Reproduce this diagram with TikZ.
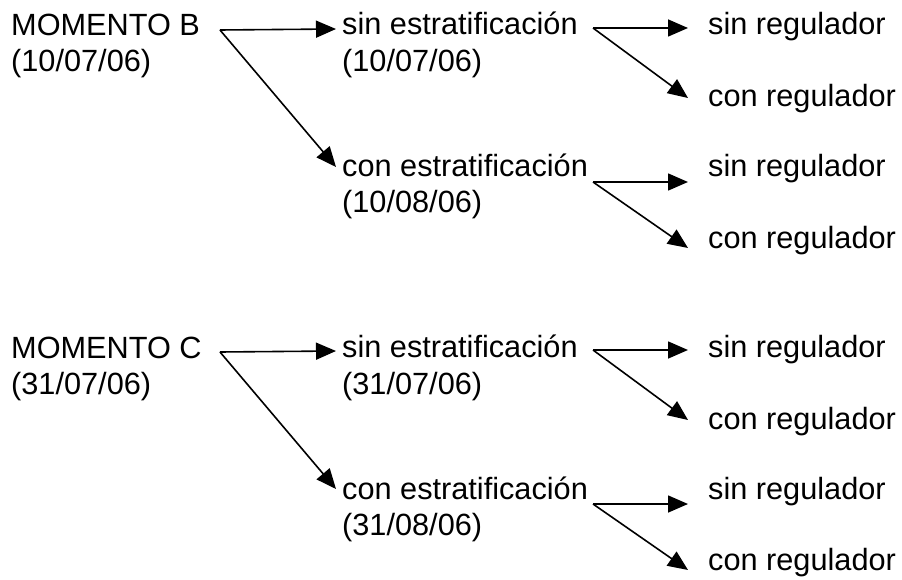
\documentclass[tikz,border=0pt]{standalone}
\usepackage{fontspec}
\setmainfont{Liberation Sans}
\usetikzlibrary{arrows.meta,calc}
\tikzset{
  lbl/.style={inner sep=0pt, anchor=base west, font=\fontsize{30.7}{36}\selectfont},
  arr/.style={line width=1.6pt, -{Triangle[length=20pt,width=17pt]}}
}
\begin{document}
\begin{tikzpicture}[x=1pt,y=-1pt]
\useasboundingbox[fill=white] (0,0) rectangle (902,580);
% ---------- group B ----------
\node[lbl] (mB)  at (11,36)  {MOMENTO B};
\node[lbl] (mBd) at (11,72)  {(10/07/06)};
\node[lbl] (sB)  at (342,35) {sin estratificación};
\node[lbl] (sBd) at (342,72) {(10/07/06)};
\node[lbl] (cB)  at (342,177) {con estratificación};
\node[lbl] (cBd) at (342,213) {(10/08/06)};
\node[lbl] (sBs) at (708,35)  {sin regulador};
\node[lbl] (sBc) at (708,107) {con regulador};
\node[lbl] (cBs) at (708,177) {sin regulador};
\node[lbl] (cBc) at (708,248) {con regulador};
\coordinate (oB)  at (220,30);
\coordinate (osB) at (593,28);
\coordinate (ocB) at (593,182);
\draw[arr] (oB) -- ($(sB.base west)+(-6,-6)$);
\draw[arr] (oB) -- ($(cB.base west)+(-6,-10)$);
\draw[arr] (osB) -- ($(sBs.base west)+(-20,-7)$);
\draw[arr] (osB) -- ($(sBc.base west)+(-20,-9)$);
\draw[arr] (ocB) -- ($(cBs.base west)+(-20,5)$);
\draw[arr] (ocB) -- ($(cBc.base west)+(-20,0)$);
% ---------- group C ----------
\node[lbl] (mC)  at (11,358)  {MOMENTO C};
\node[lbl] (mCd) at (11,394)  {(31/07/06)};
\node[lbl] (sC)  at (342,357) {sin estratificación};
\node[lbl] (sCd) at (342,394) {(31/07/06)};
\node[lbl] (cC)  at (342,499) {con estratificación};
\node[lbl] (cCd) at (342,535) {(31/08/06)};
\node[lbl] (sCs) at (708,357) {sin regulador};
\node[lbl] (sCc) at (708,429) {con regulador};
\node[lbl] (cCs) at (708,499) {sin regulador};
\node[lbl] (cCc) at (708,570) {con regulador};
\coordinate (oC)  at (220,352);
\coordinate (osC) at (593,350);
\coordinate (ocC) at (593,504);
\draw[arr] (oC) -- ($(sC.base west)+(-6,-6)$);
\draw[arr] (oC) -- ($(cC.base west)+(-6,-10)$);
\draw[arr] (osC) -- ($(sCs.base west)+(-20,-7)$);
\draw[arr] (osC) -- ($(sCc.base west)+(-20,-9)$);
\draw[arr] (ocC) -- ($(cCs.base west)+(-20,5)$);
\draw[arr] (ocC) -- ($(cCc.base west)+(-20,0)$);
\end{tikzpicture}
\end{document}
